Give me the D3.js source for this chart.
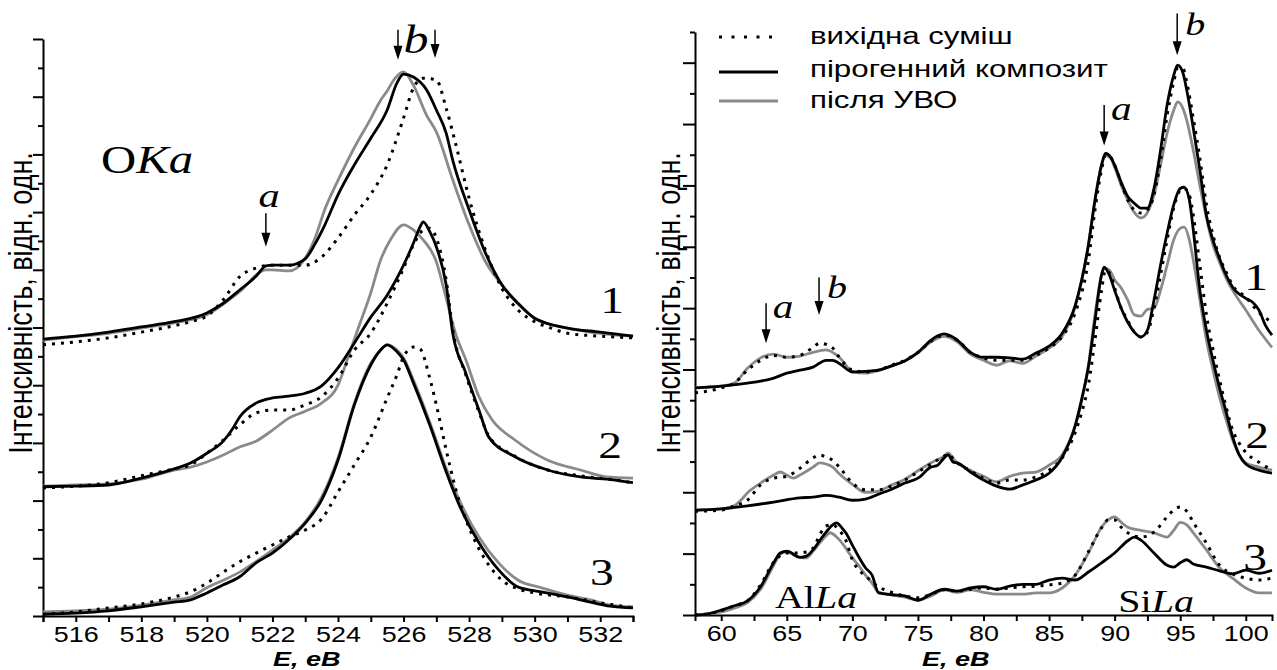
<!DOCTYPE html>
<html>
<head>
<meta charset="utf-8">
<script src="https://cdnjs.cloudflare.com/ajax/libs/d3/7.8.5/d3.min.js"></script>
<style>
  html, body { margin: 0; padding: 0; background: #fff; }
  svg { display: block; }
</style>
</head>
<body>
<svg id="chart" width="1277" height="670"></svg>
<script>
// ---- O Ka emission spectra: [E (eV), intensity (rel. units)] ----
const oMix1 = [[515,4.70],[516,4.75],[517,4.82],[518,4.92],[519,5.03],[519.5,5.10],[520,5.20],[520.5,5.48],[521,5.88],[521.5,6.03],[522,6.08],[522.5,6.08],[523,6.08],[523.5,6.22],[524,6.55],[524.5,6.95],[525,7.31],[525.5,7.82],[526,8.63],[526.3,9.15],[526.6,9.32],[527,9.29],[527.3,8.80],[527.6,8.16],[528,7.24],[528.5,6.34],[529,5.68],[529.5,5.30],[530,5.10],[530.5,4.99],[531,4.90],[532,4.85],[533,4.82]];
const oPyr1 = [[515,4.80],[516,4.85],[517,4.92],[518,5.01],[519,5.10],[520,5.25],[520.5,5.42],[521,5.65],[521.5,5.89],[521.8,6.07],[522,6.08],[522.5,6.08],[523,6.19],[523.3,6.45],[523.6,6.78],[524,7.30],[524.5,7.82],[525,8.28],[525.5,8.77],[525.8,9.24],[526,9.39],[526.3,9.34],[526.7,9.12],[527,8.77],[527.3,8.37],[527.5,7.90],[528,7.04],[528.5,6.29],[529,5.74],[529.5,5.41],[530,5.16],[531,4.99],[532,4.92],[533,4.85]];
const oUvo1 = [[515,4.78],[516,4.84],[517,4.90],[518,4.99],[519,5.08],[520,5.22],[521,5.62],[521.8,6.00],[522,6.00],[522.5,5.98],[523,6.20],[523.3,6.55],[523.6,7.05],[524,7.55],[524.5,8.12],[525,8.62],[525.3,8.94],[525.5,9.10],[525.7,9.29],[526,9.43],[526.3,9.20],[526.7,8.68],[527,8.39],[527.5,7.56],[528,6.78],[528.5,6.14],[529,5.74],[529.5,5.42],[530,5.16],[531,4.99],[532,4.90],[533,4.85]];

const oMix2 = [[515,2.22],[516,2.25],[517,2.31],[518,2.43],[519,2.55],[519.5,2.62],[520,2.82],[520.5,3.05],[521,3.31],[521.5,3.52],[522,3.57],[522.5,3.57],[523,3.66],[523.5,3.80],[524,4.12],[524.5,4.61],[525,4.90],[525.5,5.42],[526,6.03],[526.3,6.43],[526.6,6.69],[526.8,6.72],[527,6.55],[527.3,5.82],[527.5,4.96],[527.9,4.18],[528.3,3.54],[528.6,3.12],[529.4,2.77],[530.4,2.53],[531.4,2.43],[532.4,2.36],[533,2.31]];
const oPyr2 = [[515,2.24],[516,2.25],[517,2.27],[518,2.39],[519,2.55],[519.5,2.65],[520,2.82],[520.5,3.03],[520.8,3.26],[521,3.45],[521.5,3.69],[522,3.78],[522.5,3.81],[523,3.86],[523.5,3.99],[524,4.30],[524.5,4.73],[525,5.18],[525.5,5.56],[526,6.08],[526.3,6.46],[526.5,6.74],[526.6,6.83],[526.8,6.66],[527,6.40],[527.3,5.74],[527.5,4.90],[527.9,4.21],[528.3,3.57],[528.6,3.10],[529.4,2.76],[530.4,2.53],[531.4,2.41],[532.4,2.36],[533,2.31]];
const oUvo2 = [[515,2.25],[516,2.27],[517,2.29],[518,2.37],[519,2.53],[519.5,2.58],[520,2.67],[520.5,2.79],[521,2.93],[521.5,3.03],[522,3.22],[522.5,3.43],[523,3.55],[523.5,3.69],[524,4.00],[524.3,4.47],[524.6,4.96],[525,5.60],[525.3,6.17],[525.6,6.52],[526,6.78],[526.3,6.69],[526.6,6.52],[527,6.14],[527.3,5.51],[527.6,4.87],[527.9,4.44],[528.3,3.80],[528.7,3.40],[529.4,3.05],[530.4,2.70],[531.4,2.53],[532.2,2.41],[533,2.39]];

const oMix3 = [[515,0.03],[516,0.07],[517,0.14],[518,0.21],[519,0.33],[519.5,0.42],[520,0.57],[520.5,0.76],[521,0.94],[521.5,1.09],[522,1.23],[522.5,1.37],[523,1.49],[523.5,1.68],[524,2.15],[524.5,2.62],[525,3.10],[525.5,3.78],[525.8,4.18],[526,4.49],[526.3,4.66],[526.5,4.63],[526.8,4.12],[527,3.66],[527.3,2.88],[527.6,2.18],[528,1.53],[528.5,0.97],[529,0.62],[529.5,0.47],[530,0.40],[531,0.33],[532,0.23],[533,0.14]];
const oPyr3 = [[515,0.03],[516,0.05],[517,0.09],[518,0.16],[519,0.24],[519.5,0.28],[520,0.40],[520.5,0.54],[521,0.68],[521.5,0.92],[522,1.09],[522.5,1.32],[523,1.61],[523.5,2.01],[524,2.70],[524.5,3.66],[525,4.35],[525.3,4.61],[525.5,4.70],[525.8,4.58],[526,4.44],[526.3,4.04],[526.8,3.31],[527.3,2.50],[527.7,1.92],[528.3,1.27],[528.9,0.80],[529.5,0.50],[530.2,0.42],[531,0.33],[531.7,0.24],[532.3,0.17],[533,0.14]];
const oUvo3 = [[515,0.07],[516,0.09],[517,0.12],[518,0.19],[519,0.28],[519.5,0.33],[520,0.49],[520.5,0.62],[521,0.76],[521.5,0.94],[522,1.14],[522.5,1.35],[523,1.63],[523.5,2.06],[524,2.74],[524.5,3.69],[525,4.38],[525.3,4.61],[525.5,4.70],[525.8,4.61],[526,4.47],[526.3,4.09],[526.8,3.36],[527.3,2.56],[527.7,2.01],[528.3,1.37],[528.9,0.92],[529.5,0.62],[530.2,0.49],[531,0.36],[531.7,0.28],[532.3,0.19],[533,0.16]];

// ---- Al La / Si La emission spectra ----
const slMix1 = [[58,3.62],[60,3.70],[61,3.78],[62,3.99],[63,4.15],[64,4.23],[65,4.20],[66,4.23],[67,4.36],[67.5,4.43],[68,4.41],[68.5,4.35],[69,4.20],[70,3.99],[71,3.96],[72,3.99],[73,4.07],[74,4.15],[75,4.28],[76,4.46],[77,4.56],[78,4.48],[79,4.28],[80,4.19],[81,4.15],[82,4.15],[83,4.15],[84,4.23],[85,4.35],[86,4.54],[87,4.93],[88,5.78],[88.5,6.60],[89,7.25],[89.3,7.49],[89.7,7.46],[90,7.33],[90.5,7.04],[91,6.76],[91.5,6.60],[92,6.55],[92.5,6.60],[93,6.84],[93.5,7.41],[94,8.14],[94.5,8.68],[94.8,8.91],[95.2,8.91],[95.5,8.68],[96,8.09],[96.5,7.44],[97,6.68],[97.5,6.19],[98,5.83],[98.5,5.59],[99,5.37],[100,5.18],[101,4.93],[102,4.77]];
const slPyr1 = [[58,3.70],[60,3.73],[62,3.78],[63,3.81],[64,3.86],[65,3.94],[66,3.99],[67,4.04],[68,4.15],[68.5,4.15],[69,4.10],[70,3.96],[71,3.97],[72,3.99],[73,4.06],[74,4.14],[75,4.28],[76,4.48],[77,4.58],[78,4.48],[79,4.28],[80,4.20],[81,4.20],[82,4.19],[83,4.17],[84,4.27],[85,4.38],[86,4.59],[87,5.05],[88,6.03],[88.5,6.76],[89,7.33],[89.3,7.52],[89.7,7.46],[90,7.33],[90.5,7.05],[91,6.82],[91.5,6.71],[92,6.63],[92.5,6.63],[93,6.95],[93.5,7.57],[94,8.31],[94.5,8.79],[94.8,8.96],[95.2,8.84],[95.5,8.55],[96,7.93],[96.5,7.25],[97,6.51],[97.5,6.11],[98,5.81],[98.5,5.54],[99,5.34],[100,5.16],[100.5,5.10],[101,4.97],[101.5,4.72],[102,4.56]];
const slUvo1 = [[58,3.70],[60,3.73],[61,3.78],[62,4.02],[63,4.19],[64,4.25],[65,4.20],[66,4.22],[67,4.28],[68,4.32],[69,4.20],[70,3.97],[71,3.94],[72,3.99],[73,4.06],[74,4.14],[75,4.27],[76,4.45],[77,4.54],[78,4.45],[79,4.25],[80,4.15],[81,4.07],[82,4.14],[83,4.10],[84,4.22],[85,4.35],[86,4.54],[87,5.03],[88,6.03],[88.5,6.76],[89,7.33],[89.3,7.49],[89.7,7.44],[90,7.30],[90.5,7.00],[91,6.76],[91.5,6.56],[92,6.47],[92.5,6.56],[93,6.84],[93.5,7.33],[94,7.85],[94.5,8.22],[94.8,8.36],[95.2,8.26],[95.5,8.06],[96,7.57],[96.5,7.00],[97,6.47],[97.5,6.03],[98,5.75],[98.5,5.49],[99,5.29],[100,4.97],[101,4.64],[102,4.36]];

const slMix2 = [[58,1.69],[60,1.71],[61,1.78],[62,1.87],[63,2.12],[64,2.23],[65,2.26],[66,2.39],[67,2.56],[67.5,2.61],[68,2.57],[68.5,2.52],[69,2.41],[70,2.15],[71,2.04],[72,2.04],[73,2.10],[74,2.20],[75,2.33],[76,2.46],[77,2.59],[77.3,2.62],[77.8,2.52],[78,2.48],[79,2.35],[80,2.23],[81,2.15],[82,2.20],[83,2.20],[84,2.25],[85,2.36],[86,2.56],[87,2.98],[87.5,3.31],[88,3.75],[88.5,4.48],[89,5.29],[89.3,5.62],[89.7,5.54],[90,5.33],[90.5,5.00],[91,4.80],[91.5,4.61],[92,4.53],[92.5,4.61],[93,5.00],[93.5,5.54],[94,6.11],[94.5,6.63],[95,6.92],[95.3,6.95],[95.7,6.84],[96,6.51],[96.5,5.70],[97,4.89],[97.5,4.32],[98,3.83],[98.5,3.39],[99,3.01],[99.5,2.80],[100,2.65],[101,2.49],[102,2.36]];
const slPyr2 = [[58,1.71],[60,1.73],[62,1.78],[64,1.84],[66,1.91],[67,1.92],[68,1.95],[69,1.92],[70,1.87],[71,1.89],[72,1.97],[73,2.05],[74,2.15],[75,2.23],[76,2.41],[76.5,2.44],[77,2.56],[77.3,2.61],[77.7,2.49],[78,2.48],[79,2.33],[80,2.20],[81,2.10],[82,2.05],[83,2.12],[84,2.20],[85,2.31],[86,2.57],[87,3.09],[87.5,3.53],[88,4.04],[88.5,4.80],[89,5.54],[89.2,5.67],[89.6,5.54],[90,5.29],[90.5,5.00],[91,4.77],[91.5,4.61],[92,4.53],[92.5,4.64],[93,5.13],[93.5,5.70],[94,6.22],[94.5,6.68],[95,6.95],[95.3,6.97],[95.7,6.76],[96,6.27],[96.5,5.29],[97,4.64],[97.5,4.15],[98,3.70],[98.5,3.31],[99,2.90],[99.5,2.61],[100,2.46],[101,2.36],[102,2.31]];
const slUvo2 = [[58,1.71],[60,1.73],[61,1.78],[61.5,1.87],[62,1.99],[63,2.15],[64,2.28],[64.5,2.33],[65,2.28],[65.5,2.23],[66,2.28],[67,2.41],[67.5,2.48],[68,2.46],[68.5,2.41],[69,2.30],[70,2.13],[71,2.00],[72,2.02],[73,2.12],[74,2.21],[75,2.35],[76,2.48],[77,2.59],[77.3,2.64],[77.8,2.52],[78,2.48],[79,2.36],[80,2.26],[81,2.17],[82,2.26],[83,2.31],[84,2.33],[85,2.44],[86,2.61],[87,3.09],[87.5,3.50],[88,4.07],[88.5,4.89],[89,5.54],[89.2,5.65],[89.6,5.62],[90,5.46],[90.5,5.33],[91,5.13],[91.5,4.89],[92,4.87],[92.5,4.98],[93,5.00],[93.5,5.29],[94,5.70],[94.5,6.11],[95,6.30],[95.3,6.32],[95.7,6.11],[96,5.78],[96.5,5.13],[97,4.48],[97.5,3.99],[98,3.55],[98.5,3.18],[99,2.85],[99.5,2.61],[100,2.48],[101,2.41],[102,2.36]];

const slMix3 = [[58,0],[59,0.02],[60,0.07],[61,0.15],[62,0.23],[63,0.49],[64,0.86],[65,1.01],[66,1.01],[67,1.09],[67.5,1.30],[68,1.45],[68.5,1.47],[69,1.38],[69.5,1.22],[70,0.90],[70.5,0.73],[71,0.64],[71.5,0.54],[72,0.46],[73,0.37],[74,0.31],[75,0.28],[76,0.34],[77,0.41],[78,0.39],[79,0.42],[80,0.44],[81,0.42],[82,0.44],[83,0.46],[84,0.47],[85,0.49],[86,0.52],[87,0.65],[88,1.03],[89,1.42],[89.5,1.55],[90,1.55],[90.5,1.43],[91,1.34],[92,1.27],[93,1.35],[94,1.60],[94.5,1.71],[95,1.76],[95.5,1.69],[96,1.51],[97,1.17],[98,0.81],[99,0.67],[100,0.60],[101,0.57],[102,0.60]];
const slPyr3 = [[58,0],[59,0.02],[60,0.08],[61,0.15],[62,0.23],[63,0.46],[64,0.85],[64.5,1.01],[65,1.04],[66,0.94],[66.5,0.96],[67,1.06],[67.5,1.21],[68,1.35],[68.5,1.47],[68.8,1.50],[69.2,1.42],[69.5,1.34],[70,1.14],[70.5,0.94],[71,0.77],[71.5,0.65],[72,0.36],[73,0.33],[74,0.31],[75,0.24],[76,0.34],[77,0.42],[78,0.39],[79,0.44],[80,0.46],[81,0.42],[82,0.47],[83,0.50],[84,0.50],[85,0.57],[86,0.60],[87,0.57],[88,0.70],[89,0.85],[90,1.01],[91,1.21],[91.5,1.27],[92,1.22],[93,1.01],[94,0.81],[94.5,0.78],[95,0.85],[95.5,0.90],[96,0.83],[97,0.78],[98,0.72],[99,0.67],[100,0.73],[101,0.68],[102,0.73]];
const slUvo3 = [[58,0],[59,0.02],[60,0.05],[61,0.11],[62,0.20],[63,0.42],[64,0.81],[64.5,0.99],[65,1.03],[66,0.94],[66.5,0.93],[67,1.04],[67.5,1.17],[68,1.29],[68.3,1.34],[68.8,1.27],[69.5,1.09],[70,0.93],[70.5,0.80],[71,0.65],[71.5,0.52],[72,0.37],[73,0.33],[74,0.29],[75,0.24],[76,0.31],[77,0.41],[78,0.37],[79,0.41],[80,0.37],[81,0.34],[82,0.34],[83,0.34],[84,0.36],[85,0.36],[86,0.44],[87,0.65],[88,1.01],[89,1.43],[89.5,1.55],[90,1.60],[90.5,1.51],[91,1.43],[92,1.38],[93,1.34],[94,1.27],[94.5,1.38],[95,1.51],[95.5,1.47],[96,1.34],[97,1.06],[98,0.77],[99,0.60],[100,0.44],[101,0.36],[102,0.36]];

// ---- axis ticks and labels ----
const oTicksX = d3.range(515, 533.01, 1);
const oTickLabels = [516, 518, 520, 522, 524, 526, 528, 530, 532];
const slTicksX = d3.range(60, 102.01, 2.5);
const slTickLabels = [60, 65, 70, 75, 80, 85, 90, 95, 100];
const xTitle = "E, eB";
const yTitle = "Інтенсивність, відн. одн.";
const legendNames = ["вихідна суміш", "пірогенний композит", "після УВО"];

const SANS = "'Liberation Sans', Arial, Helvetica, sans-serif";
const SERIF = "'Liberation Serif', 'Times New Roman', Times, serif";
const SX = 1.25;   // horizontal widening of the lettering
const GREY = "#8a8a8a";

const styles = {
  mix: { stroke: "#000", width: 3, dash: "3,6" },
  pyr: { stroke: "#000", width: 2.8, dash: null },
  uvo: { stroke: GREY, width: 2.8, dash: null }
};

const svg = d3.select("#chart");

function makePanel(cfg) {
  const x = d3.scaleLinear().domain(cfg.xDomain).range(cfg.xRange);
  const y = d3.scaleLinear().domain(cfg.yDomain).range(cfg.yRange);
  const g = svg.append("g");

  // x axis
  const xa = g.append("g")
    .attr("transform", `translate(0,${cfg.yRange[0]})`)
    .call(d3.axisBottom(x).tickValues(cfg.xTicks).tickSizeOuter(0).tickSize(6)
      .tickFormat(d => cfg.xLabels.includes(d) ? String(d) : ""));
  xa.select(".domain").attr("stroke-width", 2);
  xa.selectAll(".tick line").attr("stroke-width", 2);
  xa.selectAll(".tick text")
    .attr("y", 11).attr("dy", "0.71em")
    .attr("transform", `scale(${SX},1)`)
    .style("font-family", SANS).style("font-size", "21.5px").attr("fill", "#000");

  // y axis: major and minor ticks, no labels
  const ya = g.append("g")
    .attr("transform", `translate(${cfg.xRange[0]},0)`)
    .call(d3.axisLeft(y).tickValues(cfg.yMajor).tickSize(cfg.majorLen).tickSizeOuter(0).tickFormat(""));
  ya.select(".domain").attr("stroke-width", 2);
  ya.selectAll(".tick line").attr("stroke-width", 2);
  const ym = g.append("g")
    .attr("transform", `translate(${cfg.xRange[0]},0)`)
    .call(d3.axisLeft(y).tickValues(cfg.yMinor).tickSize(cfg.minorLen).tickSizeOuter(0).tickFormat(""));
  ym.select(".domain").remove();
  ym.selectAll(".tick line").attr("stroke-width", 2);

  // axis titles
  g.append("text")
    .attr("transform", `translate(${cfg.xTitleAt[0]},${cfg.xTitleAt[1]}) scale(1.32,1)`)
    .style("font-family", SANS).style("font-size", "20.5px")
    .style("font-weight", "bold").style("font-style", "italic")
    .text(xTitle);
  g.append("text")
    .attr("transform", `translate(${cfg.yTitleAt[0]},${cfg.yTitleAt[1]}) scale(${SX},1) rotate(-90)`)
    .attr("text-anchor", "middle")
    .style("font-family", SANS).style("font-size", "27px")
    .text(yTitle);

  // spectra
  const line = d3.line().x(d => x(d[0])).y(d => y(d[1])).curve(d3.curveMonotoneX);
  const order = ["uvo", "pyr", "mix"];
  order.forEach(kind => {
    cfg.series.filter(s => s.kind === kind).forEach(s => {
      const st = styles[kind];
      g.append("path").datum(s.data)
        .attr("d", line)
        .attr("fill", "none")
        .attr("stroke", st.stroke)
        .attr("stroke-width", st.width)
        .attr("stroke-linejoin", "round")
        .attr("stroke-dasharray", st.dash);
    });
  });
  return { g, x, y };
}

function arrow(p, ex, v1, v2) {
  const X = p.x(ex), Y1 = p.y(v1), Y2 = p.y(v2);
  p.g.append("line").attr("x1", X).attr("x2", X).attr("y1", Y1).attr("y2", Y2 - 10)
    .attr("stroke", "#000").attr("stroke-width", 1.5);
  p.g.append("path")
    .attr("d", `M${X - 4.5},${Y2 - 14} L${X + 4.5},${Y2 - 14} L${X},${Y2} Z`)
    .attr("fill", "#000");
}

function serifLabel(p, ex, v, parts, size, anchor) {
  const t = p.g.append("text")
    .attr("transform", `translate(${p.x(ex)},${p.y(v)}) scale(${SX},1)`)
    .attr("text-anchor", anchor || "middle")
    .style("font-family", SERIF).style("font-size", size + "px");
  parts.forEach(([str, it]) => t.append("tspan").style("font-style", it ? "italic" : "normal").text(str));
  return t;
}

// ---- left panel: O Ka ----
const left = makePanel({
  xDomain: [515, 533], yDomain: [0, 10], xRange: [43, 633], yRange: [616, 39],
  xTicks: oTicksX, xLabels: oTickLabels,
  yMajor: d3.range(0, 10.01, 1), yMinor: d3.range(0.5, 10, 1), majorLen: 10, minorLen: 5,
  xTitleAt: [273, 665.5], yTitleAt: [32, 303],
  series: [
    { kind: "mix", data: oMix1 }, { kind: "pyr", data: oPyr1 }, { kind: "uvo", data: oUvo1 },
    { kind: "mix", data: oMix2 }, { kind: "pyr", data: oPyr2 }, { kind: "uvo", data: oUvo2 },
    { kind: "mix", data: oMix3 }, { kind: "pyr", data: oPyr3 }, { kind: "uvo", data: oUvo3 }
  ]
});

serifLabel(left, 516.77, 7.68, [["O", false], ["Ka", true]], 39, "start");
serifLabel(left, 532.36, 5.25, [["1", false]], 38);
serifLabel(left, 532.30, 2.74, [["2", false]], 38);
serifLabel(left, 532.05, 0.54, [["3", false]], 38);
serifLabel(left, 521.9, 7.09, [["a", true]], 34);
arrow(left, 521.8, 6.98, 6.40);
serifLabel(left, 526.38, 9.76, [["b", true]], 40);
arrow(left, 525.83, 10.16, 9.64);
arrow(left, 526.96, 10.16, 9.67);

// ---- right panel: Al La and Si La ----
const right = makePanel({
  xDomain: [58, 102], yDomain: [0, 9.5], xRange: [695, 1272], yRange: [615, 32],
  xTicks: slTicksX, xLabels: slTickLabels,
  yMajor: d3.range(0, 9.01, 1), yMinor: d3.range(0.5, 9.6, 1), majorLen: 12, minorLen: 5,
  xTitleAt: [922, 665.5], yTitleAt: [680, 303],
  series: [
    { kind: "mix", data: slMix1 }, { kind: "pyr", data: slPyr1 }, { kind: "uvo", data: slUvo1 },
    { kind: "mix", data: slMix2 }, { kind: "pyr", data: slPyr2 }, { kind: "uvo", data: slUvo2 },
    { kind: "mix", data: slMix3 }, { kind: "pyr", data: slPyr3 }, { kind: "uvo", data: slUvo3 }
  ]
});

serifLabel(right, 100.79, 5.29, [["1", false]], 38);
serifLabel(right, 100.87, 2.72, [["2", false]], 38);
serifLabel(right, 100.72, 0.73, [["3", false]], 38);
serifLabel(right, 67.23, 0.11, [["Al", false], ["La", true]], 32);
serifLabel(right, 93.16, 0.05, [["Si", false], ["La", true]], 32);
serifLabel(right, 90.5, 8.06, [["a", true]], 33);
arrow(right, 89.2, 8.31, 7.65);
serifLabel(right, 96.14, 9.45, [["b", true]], 32);
arrow(right, 94.77, 9.80, 9.12);
serifLabel(right, 64.71, 4.84, [["a", true]], 33);
arrow(right, 63.42, 5.08, 4.43);
serifLabel(right, 68.83, 5.16, [["b", true]], 32);
arrow(right, 67.46, 5.50, 4.89);

// ---- legend ----
const legend = svg.append("g");
const legendKinds = ["mix", "pyr", "uvo"];
const legendLineY = [37, 72, 101];
const legendTextY = [44, 77, 108];
legendKinds.forEach((k, i) => {
  const st = styles[k];
  legend.append("line")
    .attr("x1", 719).attr("x2", 778).attr("y1", legendLineY[i]).attr("y2", legendLineY[i])
    .attr("stroke", st.stroke).attr("stroke-width", k === "mix" ? 3 : 3.2)
    .attr("stroke-dasharray", k === "mix" ? "3,9.5" : null);
  legend.append("text")
    .attr("transform", `translate(810,${legendTextY[i]}) scale(1.36,1)`)
    .style("font-family", SANS).style("font-size", "23px")
    .text(legendNames[i]);
});
</script>
</body>
</html>
